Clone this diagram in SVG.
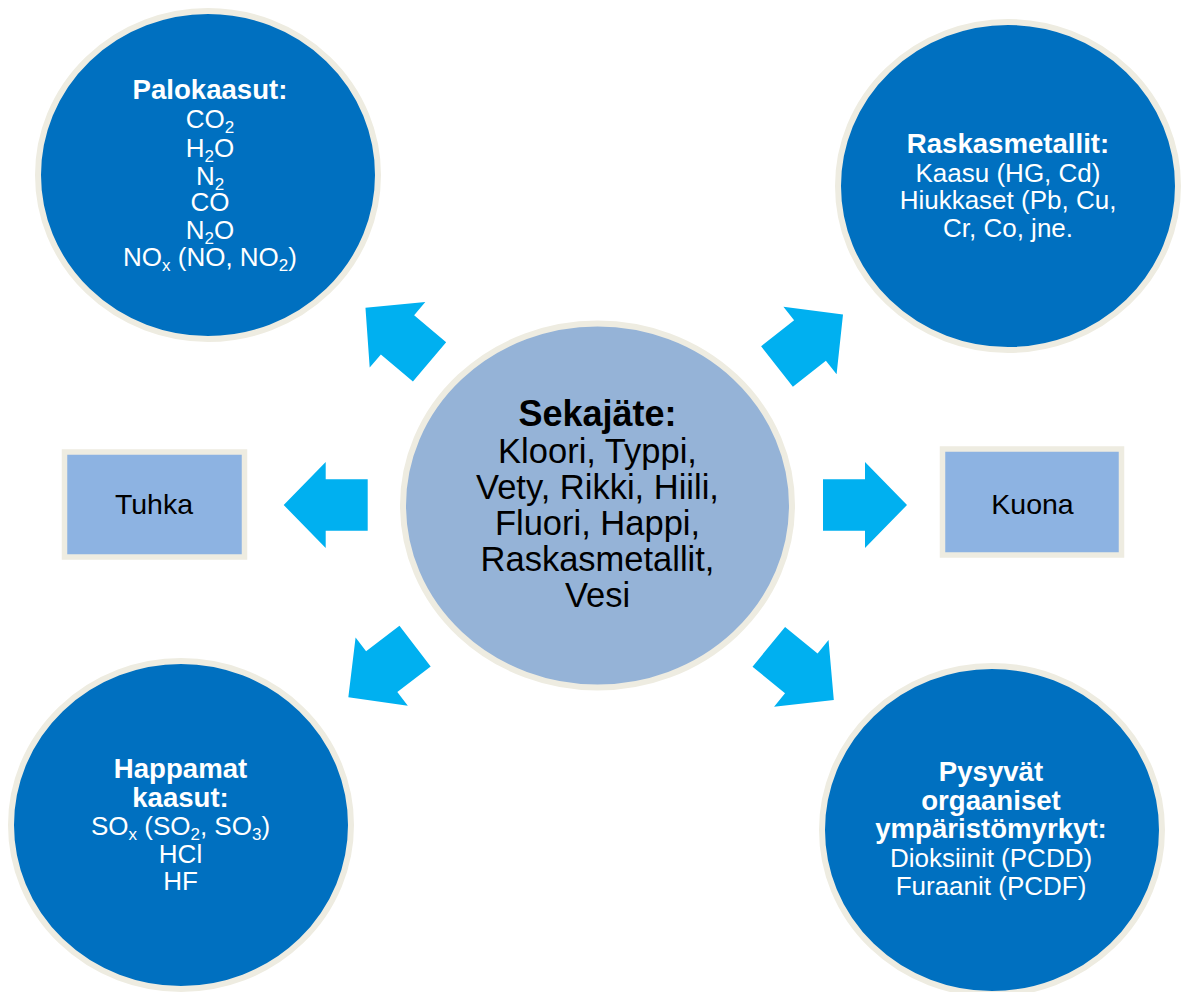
<svg xmlns="http://www.w3.org/2000/svg" width="1182" height="992" viewBox="0 0 1182 992">
<defs>
<style>
.bubble{fill:#0070C0;stroke:#EEECE1;stroke-width:6}
.center{fill:#95B3D7;stroke:#EEECE1;stroke-width:6}
.box{fill:#8DB3E2;stroke:#EEECE1;stroke-width:5.5}
.arrow{fill:#00B0F0}
text{font-family:"Liberation Sans",Arial,sans-serif;text-anchor:middle}
.wt{fill:#FFFFFF;font-size:26px}
.wb{fill:#FFFFFF;font-size:27.6px;font-weight:bold}
.bt{fill:#000000;font-size:34.5px}
.bb{fill:#000000;font-size:36px;font-weight:bold}
.lbl{fill:#000000;font-size:28.5px}
.sub{font-size:17px}
</style>
<path id="arr" d="M 42 0 L 0 -43 L 0 -25.7 L -42 -25.7 L -42 25.7 L 0 25.7 L 0 43 Z"/>
</defs>
<rect x="0" y="0" width="1182" height="992" fill="#FFFFFF"/>
<g id="connectors">
<use href="#arr" class="arrow" transform="translate(325.7,505) rotate(180)"/>
<use href="#arr" class="arrow" transform="translate(865,505)"/>
<use href="#arr" class="arrow" transform="translate(397.5,334.8) rotate(220.3)"/>
<use href="#arr" class="arrow" transform="translate(810,340.5) rotate(-38.2)"/>
<use href="#arr" class="arrow" transform="translate(381.7,671.7) rotate(142.6)"/>
<use href="#arr" class="arrow" transform="translate(801.3,673.4) rotate(39.3)"/>
</g>
<g id="palokaasut">
<ellipse class="bubble" cx="208" cy="175" rx="170" ry="164"/>
<text class="wb" x="210" y="99.3">Palokaasut:</text>
<text class="wt" x="210" y="128">CO<tspan class="sub" dy="5">2</tspan></text>
<text class="wt" x="210" y="156.5">H<tspan class="sub" dy="5">2</tspan><tspan dy="-5">O</tspan></text>
<text class="wt" x="210" y="184.5">N<tspan class="sub" dy="5">2</tspan></text>
<text class="wt" x="210" y="211">CO</text>
<text class="wt" x="210" y="239">N<tspan class="sub" dy="5">2</tspan><tspan dy="-5">O</tspan></text>
<text class="wt" x="210" y="266">NO<tspan class="sub" dy="5">x</tspan><tspan dy="-5"> (NO, NO</tspan><tspan class="sub" dy="5">2</tspan><tspan dy="-5">)</tspan></text>
</g>
<g id="raskasmetallit">
<ellipse class="bubble" cx="1008" cy="186" rx="170" ry="164"/>
<text class="wb" x="1008" y="153.3">Raskasmetallit:</text>
<text class="wt" x="1008" y="181.7">Kaasu (HG, Cd)</text>
<text class="wt" x="1008" y="209.3">Hiukkaset (Pb, Cu,</text>
<text class="wt" x="1008" y="236.7">Cr, Co, jne.</text>
</g>
<g id="happamat">
<ellipse class="bubble" cx="181" cy="825" rx="170" ry="164"/>
<text class="wb" x="180.5" y="778.3">Happamat</text>
<text class="wb" x="180.5" y="806.7">kaasut:</text>
<text class="wt" x="180.5" y="835">SO<tspan class="sub" dy="5">x</tspan><tspan dy="-5"> (SO</tspan><tspan class="sub" dy="5">2</tspan><tspan dy="-5">, SO</tspan><tspan class="sub" dy="5">3</tspan><tspan dy="-5">)</tspan></text>
<text class="wt" x="180.5" y="862.7">HCl</text>
<text class="wt" x="180.5" y="890">HF</text>
</g>
<g id="pysyvat">
<ellipse class="bubble" cx="992" cy="830" rx="170" ry="164"/>
<text class="wb" x="991" y="781">Pysyvät</text>
<text class="wb" x="991" y="809.5">orgaaniset</text>
<text class="wb" x="991" y="838">ympäristömyrkyt:</text>
<text class="wt" x="991" y="866.5">Dioksiinit (PCDD)</text>
<text class="wt" x="991" y="895">Furaanit (PCDF)</text>
</g>
<g id="sekajate">
<ellipse class="center" cx="597.5" cy="505.5" rx="194.5" ry="182"/>
<text class="bb" x="597.5" y="426">Sekajäte:</text>
<text class="bt" x="597.5" y="462.7">Kloori, Typpi,</text>
<text class="bt" x="597.5" y="499.3">Vety, Rikki, Hiili,</text>
<text class="bt" x="597.5" y="535">Fluori, Happi,</text>
<text class="bt" x="597.5" y="570.7">Raskasmetallit,</text>
<text class="bt" x="597.5" y="606.7">Vesi</text>
</g>
<g id="tuhka">
<rect class="box" x="64.5" y="452" width="180" height="105"/>
<text class="lbl" x="154" y="514">Tuhka</text>
</g>
<g id="kuona">
<rect class="box" x="942.5" y="449" width="179" height="106"/>
<text class="lbl" x="1032.5" y="514">Kuona</text>
</g>
</svg>
